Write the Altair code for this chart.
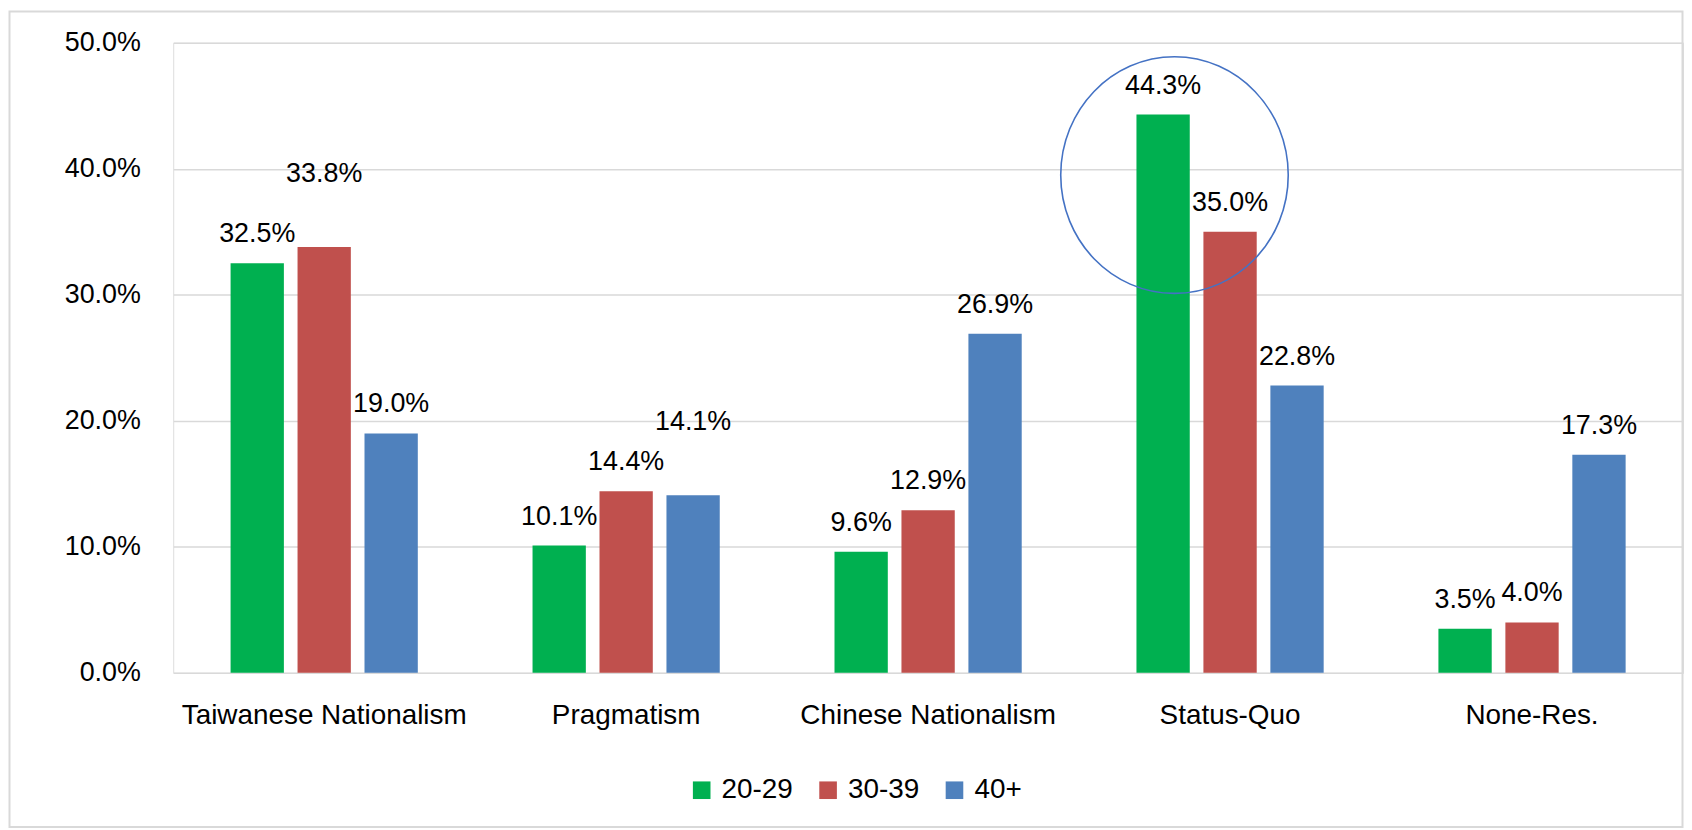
import altair as alt
import pandas as pd

categories = ["Taiwanese Nationalism", "Pragmatism", "Chinese Nationalism", "Status-Quo", "None-Res."]
groups = ["20-29", "30-39", "40+"]
v_20_29 = [32.5, 10.1, 9.6, 44.3, 3.5]
v_30_39 = [33.8, 14.4, 12.9, 35.0, 4.0]
v_40_plus = [19.0, 14.1, 26.9, 22.8, 17.3]
colors = ["#00B050", "#C0504D", "#4F81BD"]

# labels that sit higher above their bar in the original
raised = [("Taiwanese Nationalism", "30-39"), ("Pragmatism", "40+")]

rows = []
for g, vals in zip(groups, [v_20_29, v_30_39, v_40_plus]):
    for c, v in zip(categories, vals):
        rows.append({"cat": c, "grp": g, "val": v / 100.0, "raised": (c, g) in raised})
df = pd.DataFrame(rows)

# annotation ellipse around the Status-Quo peak
annot = pd.DataFrame({"cat": ["Status-Quo"], "grp": ["20-29"], "val": [0.395]})

FONT = "Liberation Sans"

x_enc = alt.X("cat:N", sort=categories, title=None,
              scale=alt.Scale(paddingInner=0.38, paddingOuter=0.19),
              axis=alt.Axis(labelAngle=0, labelFontSize=28, labelColor="#000000",
                            labelPadding=29, ticks=False, tickSize=0, domain=False,
                            grid=False, labelFont=FONT, labelLimit=600))
xo_enc = alt.XOffset("grp:N", sort=groups,
                     scale=alt.Scale(paddingInner=0.204, paddingOuter=0))
y_enc = alt.Y("val:Q", title=None,
              scale=alt.Scale(domain=[0, 0.5], nice=False),
              axis=alt.Axis(values=[0, 0.1, 0.2, 0.3, 0.4, 0.5], format=".1%",
                            labelFontSize=27, labelColor="#000000", labelPadding=33,
                            ticks=False, tickSize=0, domain=False, grid=True,
                            gridColor="#d9d9d9", gridWidth=1.5, labelFont=FONT))

base = alt.Chart(df)

bars = base.mark_bar().encode(
    x=x_enc, xOffset=xo_enc, y=y_enc,
    color=alt.Color("grp:N", sort=groups,
                    scale=alt.Scale(domain=groups, range=colors),
                    legend=alt.Legend(title=None, orient="none", direction="horizontal",
                                      legendX=517, legendY=737, symbolType="square",
                                      symbolSize=313, symbolStrokeWidth=0,
                                      labelFontSize=28, labelFont=FONT,
                                      labelColor="#000000", labelOffset=6,
                                      columnPadding=21, padding=0)),
)

labels_normal = base.transform_filter("!datum.raised").mark_text(
    baseline="alphabetic", dy=-21, fontSize=27, font=FONT, color="#000000"
).encode(x=x_enc, xOffset=xo_enc, y=y_enc, text=alt.Text("val:Q", format=".1%"))

labels_raised = base.transform_filter("datum.raised").mark_text(
    baseline="alphabetic", dy=-65, fontSize=27, font=FONT, color="#000000"
).encode(x=x_enc, xOffset=xo_enc, y=y_enc, text=alt.Text("val:Q", format=".1%"))

ellipse = alt.Chart(annot).mark_point(
    shape="M -0.9 0 A 1 1.04 0 1 1 1.1 0 A 1 1.04 0 1 1 -0.9 0 Z",
    filled=False, stroke="#4472C4", strokeWidth=1.6, size=52258, opacity=1
).encode(x=x_enc, xOffset=xo_enc, y=y_enc)

border = alt.Chart(pd.DataFrame({"a": [0]})).mark_rect(
    filled=False, stroke="#d9d9d9", strokeWidth=2
).encode(x=alt.value(-164.5), x2=alt.value(1516.5), y=alt.value(-31.5), y2=alt.value(788))

chart = alt.layer(bars, labels_normal, labels_raised, ellipse, border).properties(
    width=1517, height=633
).configure_view(stroke="transparent").configure(font=FONT, padding=0)

chart.save("out.html", embed_options={"renderer": "svg", "actions": False})
